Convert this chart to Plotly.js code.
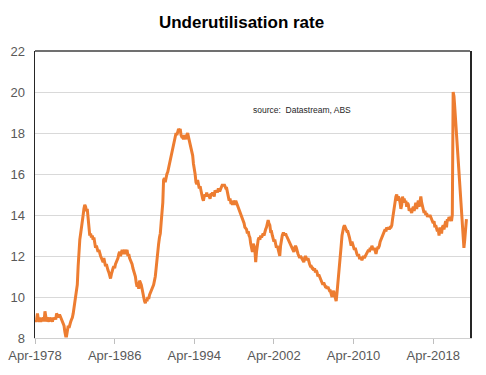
<!DOCTYPE html>
<html>
<head>
<meta charset="utf-8">
<script src="https://cdn.plot.ly/plotly-3.0.1.min.js"></script>
<style>
html,body{margin:0;padding:0;background:#fff;}
#chart{width:486px;height:375px;}
</style>
</head>
<body>
<div id="chart"></div>
<script>
// Monthly underutilisation rate (%), starting Apr-1978
const startYear = 1978, startMonth = 4;
const v1970s = [
  8.9, 8.8, 8.9, 9.2, 8.9, 8.8, 9.0, 8.8, 8.9,
  8.9, 9.0, 8.8, 9.3, 8.9, 8.8, 9.0, 8.9, 8.8, 9.0, 8.9, 8.9
];
const v1980s = [
  8.8, 9.0, 8.9, 9.0, 8.9, 9.2, 9.1, 9.0, 9.1, 9.1, 9.0, 8.9,
  8.8, 8.7, 8.6, 8.3, 8.1, 8.1, 8.4, 8.6, 8.5, 8.7, 8.8, 8.9,
  9.0, 9.2, 9.5, 9.8, 10.0, 10.3, 10.6, 11.5, 12.3, 12.8, 13.1, 13.5,
  13.8, 14.0, 14.3, 14.5, 14.4, 14.2, 14.3, 13.9, 13.3, 13.0, 13.1, 12.9,
  13.0, 12.8, 12.9, 12.6, 12.4, 12.5, 12.3, 12.2, 12.3, 12.1, 12.0, 11.9,
  11.8, 11.7, 11.9, 11.6, 11.5, 11.6, 11.4, 11.3, 11.2, 11.0, 10.9, 11.1,
  11.3, 11.4, 11.5, 11.4, 11.6, 11.7, 11.8, 11.9, 12.1, 12.2, 12.0, 12.2,
  12.3, 12.1, 12.2, 12.3, 12.1, 12.2, 12.3, 12.0, 12.1, 11.9, 11.8, 11.7,
  11.6, 11.4, 11.3, 11.1, 11.0, 10.7, 10.5, 10.6, 10.4, 10.8, 10.7, 10.6,
  10.4, 10.1, 10.0, 9.8, 9.7, 9.9, 9.8, 10.0, 9.9, 10.1, 10.2, 10.3
];
const v1990s = [
  10.4, 10.5, 10.6, 10.8, 11.0, 11.4, 11.9, 12.3, 12.6, 12.9, 13.1, 13.6,
  14.2, 14.6, 15.7, 15.8, 15.6, 15.9, 16.0, 16.1, 16.3, 16.5, 16.6, 16.9,
  17.1, 17.3, 17.5, 17.6, 17.8, 18.0, 17.9, 18.1, 18.2, 18.1, 18.2, 17.9,
  17.8, 17.8, 17.7, 17.9, 17.8, 17.7, 17.9, 18.0, 17.8, 17.6, 17.4, 17.3,
  17.0, 16.9, 16.5, 16.3, 16.0, 15.6, 15.5, 15.7, 15.4, 15.3, 15.4, 15.1,
  15.0, 14.8, 14.7, 14.9, 15.0, 14.9, 15.1, 14.9, 15.0, 14.9, 14.8, 15.0,
  15.0, 15.1, 15.0, 14.9, 15.2, 15.1, 15.2, 15.1, 15.3, 15.2, 15.2, 15.3,
  15.4, 15.5, 15.4, 15.5, 15.4, 15.3, 15.3, 15.1, 14.9, 14.7, 14.8, 14.6,
  14.6, 14.5, 14.7, 14.6, 14.5, 14.7, 14.6, 14.4, 14.3, 14.2, 14.1, 14.0,
  13.9, 13.8, 13.7, 13.6, 13.4, 13.3, 13.3, 13.1, 13.2, 13.0, 12.9, 12.6
];
const v2000s = [
  12.4, 12.2, 12.6, 12.5, 12.3, 11.7, 12.2, 12.7, 12.8, 12.9, 12.8, 13.0,
  12.9, 13.0, 13.1, 13.0, 13.2, 13.3, 13.4, 13.6, 13.75, 13.6, 13.5, 13.2,
  13.2, 13.0, 12.9, 12.7, 12.8, 12.5, 12.4, 12.5, 12.3, 12.1, 12.0, 12.5,
  12.8, 13.0, 13.1, 13.1, 13.0, 13.1, 13.0, 12.9, 12.8, 12.7, 12.6, 12.5,
  12.4, 12.3, 12.3, 12.2, 12.4, 12.5, 12.4, 12.2, 12.1, 12.0, 11.9, 12.0,
  11.9, 11.8, 11.8, 11.7, 11.9, 12.0, 11.9, 11.8, 11.9, 11.7, 11.6, 11.5,
  11.5, 11.4, 11.4, 11.3, 11.4, 11.2, 11.3, 11.2, 11.0, 11.1, 11.0, 10.9,
  10.8, 10.7, 10.6, 10.7, 10.6, 10.5, 10.5, 10.4, 10.5, 10.4, 10.3, 10.3,
  10.1, 10.0, 10.2, 10.3, 10.1, 9.9, 9.8, 10.2, 10.6, 11.0, 11.5, 12.0,
  12.5, 13.0, 13.3, 13.4, 13.5, 13.4, 13.3, 13.2, 13.2, 13.1, 12.9, 12.7
];
const v2010s = [
  12.5, 12.7, 12.6, 12.4, 12.3, 12.4, 12.2, 12.1, 12.0, 12.1, 11.9, 11.9,
  11.9, 11.8, 11.9, 12.0, 11.9, 12.0, 12.0, 12.1, 12.2, 12.3, 12.2, 12.4,
  12.3, 12.5, 12.4, 12.3, 12.4, 12.2, 12.1, 12.3, 12.4, 12.4, 12.5, 12.7,
  12.8, 12.9, 13.0, 13.1, 13.2, 13.3, 13.2, 13.4, 13.3, 13.4, 13.3, 13.4,
  13.4, 13.5, 13.8, 14.1, 14.4, 14.6, 14.9, 15.0, 14.7, 14.9, 14.8, 14.6,
  14.3, 14.5, 14.9, 14.7, 14.8, 14.6, 14.7, 14.4, 14.6, 14.5, 14.2, 14.3,
  14.2, 14.1, 14.3, 14.4, 14.2, 14.5, 14.6, 14.3, 14.5, 14.7, 14.4, 14.6,
  14.9, 14.6, 14.4, 14.2, 14.1, 14.2, 14.0, 14.1, 13.9, 14.0, 13.9, 14.0,
  13.9, 13.8, 13.7, 13.6, 13.7, 13.4, 13.5, 13.3, 13.2, 13.3, 13.0, 13.4,
  13.2, 13.1, 13.4, 13.5, 13.3, 13.6, 13.7, 13.4, 13.8, 13.7, 13.9, 13.8
];
const v2020s = [
  13.9, 13.7, 14.0, 20.0, 19.8, 19.2, 18.6, 18.1, 17.5, 16.9, 16.3, 15.7,
  15.0, 14.2, 13.5, 12.8, 12.4, 12.8, 13.3, 13.8
];
const tickDates = ['1978-04-01','1986-04-01','1994-04-01','2002-04-01','2010-04-01','2018-04-01'];
const tickLabels = ['Apr-1978','Apr-1986','Apr-1994','Apr-2002','Apr-2010','Apr-2018'];
const yTicks = [8, 10, 12, 14, 16, 18, 20, 22];

const values = [].concat(v1970s, v1980s, v1990s, v2000s, v2010s, v2020s);
const dates = values.map((v, i) => {
  const m0 = startMonth - 1 + i;
  const y = startYear + Math.floor(m0 / 12);
  const m = (m0 % 12) + 1;
  return y + '-' + String(m).padStart(2, '0') + '-01';
});

const trace = {
  x: dates, y: values, type: 'scatter', mode: 'lines',
  line: {color: '#ED7D31', width: 3},
  hoverinfo: 'skip'
};

const layout = {
  width: 486, height: 375,
  margin: {l: 35, r: 16, t: 51, b: 37},
  paper_bgcolor: '#ffffff', plot_bgcolor: '#ffffff',
  showlegend: false,
  font: {family: 'Liberation Sans, Arial, sans-serif', color: '#595959', size: 13},
  title: {
    text: '<b>Underutilisation rate</b>',
    font: {family: 'Liberation Sans Narrow, Liberation Sans, Arial, sans-serif', size: 17, color: '#000000'},
    x: 0.497, xanchor: 'center', y: 0.94, yanchor: 'middle'
  },
  xaxis: {
    type: 'date',
    range: ['1978-04-01', '2021-12-10'],
    tickvals: tickDates, ticktext: tickLabels,
    ticks: 'outside', ticklen: 5, tickcolor: '#bfbfbf', tickwidth: 1,
    showgrid: false, zeroline: false,
    showline: true, linecolor: '#d0d0d0', linewidth: 1,
    tickfont: {size: 13, color: '#595959'}
  },
  yaxis: {
    range: [8, 22],
    tickvals: yTicks,
    ticks: '', showgrid: true, gridcolor: '#d9d9d9', gridwidth: 1,
    zeroline: false,
    showline: true, linecolor: '#262626', linewidth: 1.5, mirror: true,
    ticklabelstandoff: 6,
    tickfont: {size: 13, color: '#595959'}
  },
  shapes: [
    {type: 'line', xref: 'paper', yref: 'paper', x0: 0, x1: 1, y0: 1, y1: 1,
     line: {color: '#404040', width: 1.5}}
  ],
  annotations: [
    {text: 'source:  Datastream, ABS', xref: 'paper', yref: 'paper',
     x: 0.497, y: 0.795, xanchor: 'left', yanchor: 'middle', showarrow: false,
     font: {size: 8.5, color: '#262626', family: 'Liberation Sans, Arial, sans-serif'}}
  ]
};

Plotly.newPlot('chart', [trace], layout, {displayModeBar: false, staticPlot: true});
</script>
</body>
</html>
